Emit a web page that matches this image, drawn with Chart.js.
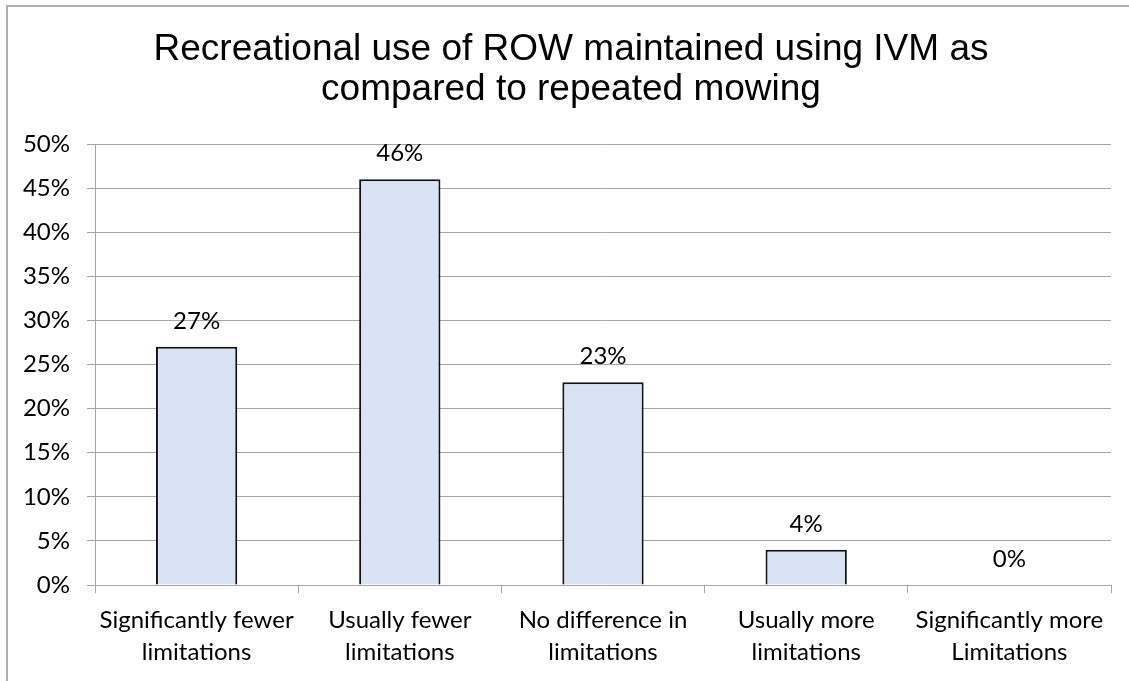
<!DOCTYPE html>
<html>
<head>
<meta charset="utf-8">
<script src="https://cdn.jsdelivr.net/npm/chart.js@4.4.1/dist/chart.umd.min.js"></script>
<style>
  html, body { margin: 0; padding: 0; background: #fff; overflow: hidden; }
  #frame { position: absolute; left: 6px; top: 5px; width: 1300px; height: 900px;
           border-left: 2px solid #b0b0b0; border-top: 2px solid #b0b0b0; box-sizing: border-box; }
  #wrap { position: absolute; left: 0; top: 0; width: 1129px; height: 681px; }
</style>
</head>
<body>
<div id="frame"></div>
<div id="wrap"><canvas id="c" width="1129" height="681"></canvas></div>
<script>
const titleLines = ["Recreational use of ROW maintained using IVM as", "compared to repeated mowing"];
const categories = [
  ["Significantly fewer", "limitations"],
  ["Usually fewer", "limitations"],
  ["No difference in", "limitations"],
  ["Usually more", "limitations"],
  ["Significantly more", "Limitations"]
];
const values = [27, 46, 23, 4, 0];
const yMin = 0, yMax = 50, yStep = 5;

const TICK_FONT = { family: "Lato, 'Open Sans', sans-serif", size: 24, lineHeight: 32/24 };
const TITLE_FONT = "37px 'Liberation Sans', Arial, sans-serif";
const GRID = '#a6a6a6';

const titlePlugin = {
  id: 'twoLineTitle',
  afterDraw(chart) {
    const ctx = chart.ctx;
    ctx.save();
    ctx.font = TITLE_FONT;
    ctx.fillStyle = '#000';
    ctx.textAlign = 'center';
    ctx.textBaseline = 'alphabetic';
    titleLines.forEach((line, i) => ctx.fillText(line, 571, 60 + i * 40));
    ctx.restore();
  }
};

const valueLabels = {
  id: 'valueLabels',
  afterDatasetsDraw(chart) {
    const ctx = chart.ctx;
    const meta = chart.getDatasetMeta(0);
    ctx.save();
    ctx.font = TICK_FONT.size + "px " + TICK_FONT.family;
    ctx.fillStyle = '#000';
    ctx.textAlign = 'center';
    ctx.textBaseline = 'alphabetic';
    meta.data.forEach((bar, i) => {
      ctx.fillText(values[i] + '%', bar.x, bar.y - 18);
    });
    ctx.restore();
  }
};

new Chart(document.getElementById('c'), {
  type: 'bar',
  data: {
    labels: categories,
    datasets: [{
      data: values,
      backgroundColor: '#dae3f3',
      borderColor: '#111',
      borderWidth: 2,
      borderSkipped: 'bottom',
      barPercentage: 1,
      categoryPercentage: 0.4
    }]
  },
  options: {
    responsive: false,
    animation: false,
    devicePixelRatio: 1,
    layout: { padding: { left: 0, right: 18, top: 144, bottom: 2 } },
    plugins: {
      legend: { display: false },
      tooltip: { enabled: false },
      title: { display: false }
    },
    scales: {
      x: {
        grid: { display: true, drawOnChartArea: false, drawTicks: true, tickLength: 8, color: GRID, offset: true },
        border: { display: true, color: GRID, width: 1 },
        ticks: { color: '#000', font: TICK_FONT, padding: 11, maxRotation: 0, autoSkip: false }
      },
      y: {
        min: yMin, max: yMax,
        grid: { color: GRID, drawTicks: true, tickLength: 8, lineWidth: 1 },
        border: { display: true, color: GRID, width: 1 },
        ticks: { stepSize: yStep, color: '#000', font: TICK_FONT, padding: 17, callback: v => v + '%' },
        afterFit(scale) { scale.width = 95; }
      }
    }
  },
  plugins: [valueLabels, titlePlugin]
});
</script>
</body>
</html>
